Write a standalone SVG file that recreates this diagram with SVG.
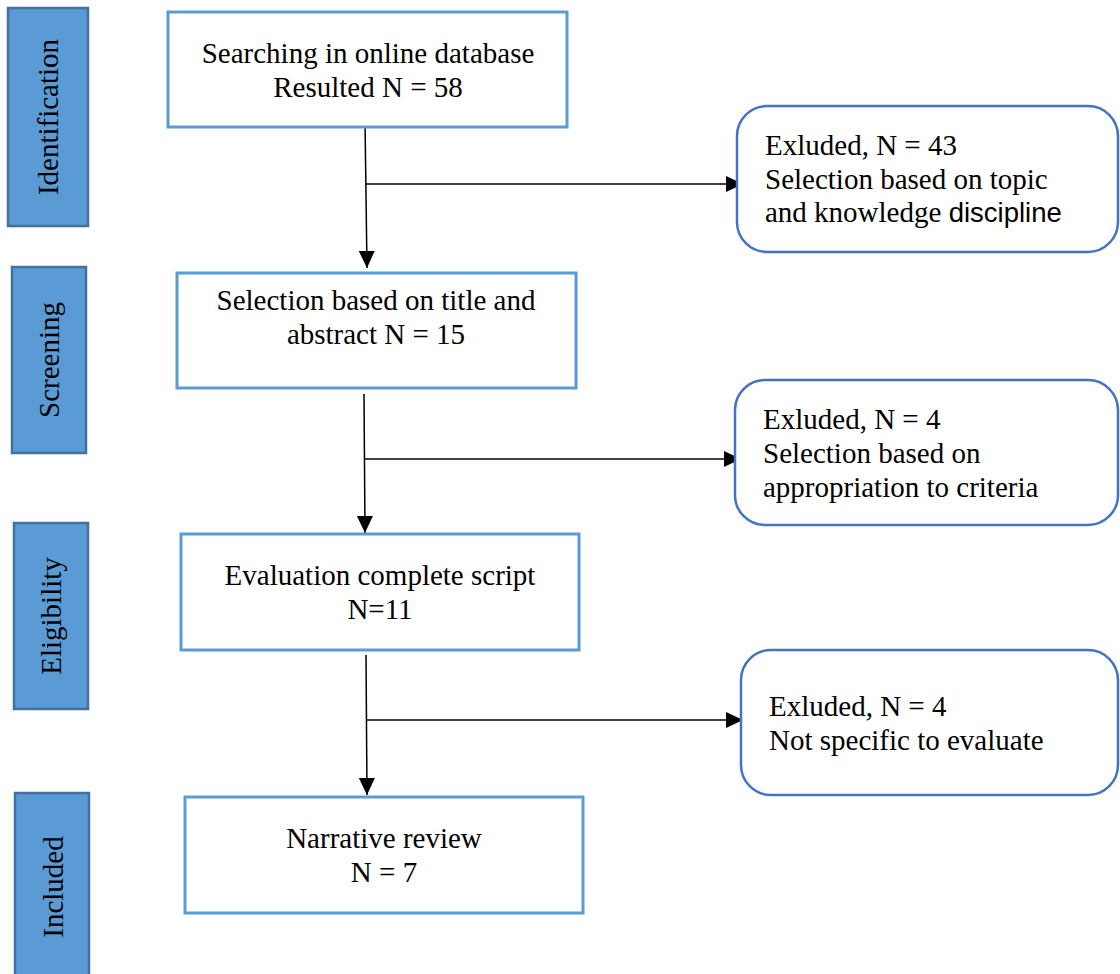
<svg xmlns="http://www.w3.org/2000/svg" width="1120" height="974" viewBox="0 0 1120 974">
<style>
.stage{fill:#5B9BD5;stroke:#41719C;stroke-width:2.5}
.box{fill:#fff;stroke:#5B9BD5;stroke-width:3}
.rbox{fill:#fff;stroke:#4472C4;stroke-width:2.5}
text{font-family:"Liberation Serif","Times New Roman",serif;font-size:29px;fill:#000}
.c{text-anchor:middle}
.sans{font-family:"Liberation Sans",Arial,sans-serif;font-size:27.5px}
.conn{stroke:#000;stroke-width:1.5;fill:none}
</style>
<defs>
<marker id="arr" markerUnits="userSpaceOnUse" viewBox="0 0 17 16" markerWidth="17" markerHeight="16" refX="17" refY="8" orient="auto" overflow="visible">
<path d="M0,0 L17,8 L0,16 z" fill="#000"/>
</marker>
</defs>
<rect width="1120" height="974" fill="#fff"/>
<g id="stage-identification">
<rect class="stage" x="8" y="8" width="80" height="218"/>
<text class="c" transform="translate(58,117) rotate(-90)">Identification</text>
</g>
<g id="stage-screening">
<rect class="stage" x="12" y="267" width="74" height="186"/>
<text class="c" transform="translate(59,360) rotate(-90)">Screening</text>
</g>
<g id="stage-eligibility">
<rect class="stage" x="14" y="523" width="74" height="186"/>
<text class="c" transform="translate(61,616) rotate(-90)">Eligibility</text>
</g>
<g id="stage-included">
<rect class="stage" x="15" y="793" width="74" height="190"/>
<text class="c" transform="translate(63,887) rotate(-90)">Included</text>
</g>
<g id="connectors">
<line class="conn" x1="365" y1="120" x2="367" y2="268" marker-end="url(#arr)"/>
<line class="conn" x1="366" y1="184" x2="743" y2="184" marker-end="url(#arr)"/>
<line class="conn" x1="364" y1="394" x2="365" y2="533" marker-end="url(#arr)"/>
<line class="conn" x1="364" y1="459" x2="741" y2="459" marker-end="url(#arr)"/>
<line class="conn" x1="366" y1="655" x2="367" y2="795" marker-end="url(#arr)"/>
<line class="conn" x1="367" y1="720" x2="743" y2="720" marker-end="url(#arr)"/>
</g>
<g id="box-search">
<rect class="box" x="168" y="12" width="399" height="115"/>
<text class="c" x="368" y="63">Searching in online database</text>
<text class="c" x="368" y="97">Resulted N = 58</text>
</g>
<g id="box-screen">
<rect class="box" x="177" y="273" width="399" height="115"/>
<text class="c" x="376" y="310">Selection based on title and</text>
<text class="c" x="376" y="344">abstract N = 15</text>
</g>
<g id="box-eval">
<rect class="box" x="181" y="534" width="398" height="116"/>
<text class="c" x="380" y="585">Evaluation complete script</text>
<text class="c" x="380" y="619">N=11</text>
</g>
<g id="box-included">
<rect class="box" x="185" y="797" width="398" height="116"/>
<text class="c" x="384" y="848">Narrative review</text>
<text class="c" x="384" y="882">N = 7</text>
</g>
<g id="excl-1">
<rect class="rbox" x="737" y="106" width="381" height="146" rx="30" ry="30"/>
<text x="765" y="155">Exluded, N = 43</text>
<text x="765" y="189">Selection based on topic</text>
<text x="765" y="222">and knowledge <tspan class="sans">discipline</tspan></text>
</g>
<g id="excl-2">
<rect class="rbox" x="735" y="380" width="383" height="145" rx="30" ry="30"/>
<text x="763" y="429">Exluded, N = 4</text>
<text x="763" y="463">Selection based on</text>
<text x="763" y="497">appropriation to criteria</text>
</g>
<g id="excl-3">
<rect class="rbox" x="741" y="650" width="377" height="145" rx="30" ry="30"/>
<text x="769" y="716">Exluded, N = 4</text>
<text x="769" y="750">Not specific to evaluate</text>
</g>
</svg>
